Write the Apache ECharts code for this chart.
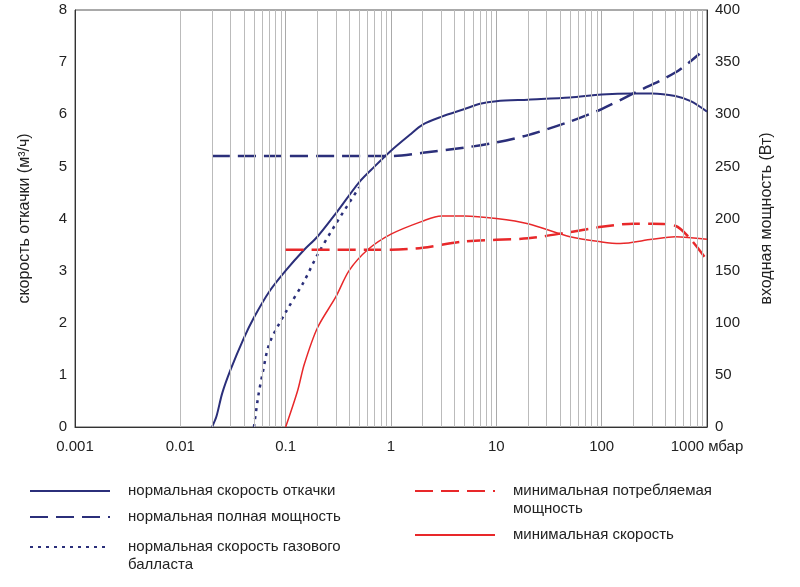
<!DOCTYPE html>
<html><head><meta charset="utf-8">
<script src="https://cdn.jsdelivr.net/npm/echarts@6/dist/echarts.min.js"></script>
<style>html,body{margin:0;background:#fff}#c{width:800px;height:587px}</style>
</head><body><div id="c"></div>
<script>
const speedNormal = [[0.02,0],[0.022,0.2],[0.025,0.65],[0.03,1.1],[0.04,1.7],[0.05,2.1],[0.07,2.6],[0.1,3.0],[0.15,3.4],[0.2,3.65],[0.3,4.1],[0.5,4.7],[0.7,5.0],[1,5.3],[1.5,5.6],[2,5.8],[3,5.95],[5,6.1],[7,6.2],[10,6.25],[20,6.28],[50,6.32],[100,6.38],[200,6.4],[300,6.4],[500,6.35],[700,6.25],[1000,6.05]];
const powerNormal = [[0.02,260],[1,260],[2,263],[5,268],[10,273],[20,280],[50,293],[100,305],[200,320],[500,340],[850,358]];
const speedBallast = [[0.05,0],[0.055,0.6],[0.06,1.0],[0.07,1.6],[0.1,2.2],[0.15,2.8],[0.2,3.3],[0.3,3.9],[0.5,4.6]];
const powerMin = [[0.1,170],[1,170],[2,172],[5,178],[20,181],[50,187],[100,192],[200,195],[300,195],[500,193],[700,180],[1000,160]];
const speedMin = [[0.1,0],[0.13,0.7],[0.15,1.2],[0.2,1.9],[0.3,2.5],[0.4,3.0],[0.6,3.4],[1,3.7],[2,3.95],[3,4.05],[5,4.05],[10,4.0],[20,3.9],[50,3.65],[100,3.55],[150,3.52],[300,3.6],[500,3.65],[1000,3.6]];
const decades = [0.001,0.01,0.1,1,10,100];

const minorX = [];
decades.forEach(d => { for (let k = 2; k <= 9; k++) minorX.push({xAxis: +(d*k).toPrecision(3)}); });

const navy = '#2b2f7a', red = '#e8282a', font = 'Arial, Liberation Sans, sans-serif';
const chart = echarts.init(document.getElementById('c'));
function legLine(x, y, color, dash, txt, ty) {
  return [
    {type:'line', shape:{x1:x, y1:y, x2:x+80, y2:y}, style:{stroke:color, lineWidth:2, lineDash:dash}},
    {type:'text', left:x+98, top:ty, style:{text:txt, fontSize:15, fill:'#222', fontFamily:font, lineHeight:18}}
  ];
}
const lbl = {fontSize:15, color:'#222', fontFamily:font};
chart.setOption({
  animation:false,
  grid:{left:75, right:93, top:10, bottom:160, show:true, borderColor:'#555', borderWidth:1},
  xAxis:{type:'log', min:0.001, max:1000, logBase:10,
    axisLine:{lineStyle:{color:'#333'}}, axisTick:{show:false},
    splitLine:{show:true, lineStyle:{color:'#aaa'}},
    axisLabel:Object.assign({margin:12, formatter: v => v===1000 ? '1000 мбар' : String(+v.toPrecision(3))}, lbl)},
  yAxis:[
    {type:'value', min:0, max:8, interval:1, name:'скорость откачки (м³/ч)', nameLocation:'middle', nameGap:42,
     nameTextStyle:{fontSize:16, color:'#222', fontFamily:font}, splitLine:{show:false},
     axisLine:{show:true, lineStyle:{color:'#333'}}, axisTick:{show:false}, axisLabel:lbl},
    {type:'value', min:0, max:400, interval:50, name:'входная мощность (Вт)', nameLocation:'middle', nameGap:52, nameRotate:90,
     nameTextStyle:{fontSize:16, color:'#222', fontFamily:font}, splitLine:{show:false},
     axisLine:{show:true, lineStyle:{color:'#333'}}, axisTick:{show:false}, axisLabel:lbl}
  ],
  series:[
    {type:'line', data:[], markLine:{silent:true, symbol:'none', label:{show:false},
      lineStyle:{color:'#bbb', type:'solid', width:1}, data:minorX}},
    {type:'line', data:speedNormal, smooth:0.3, showSymbol:false, lineStyle:{color:navy, width:2}},
    {type:'line', yAxisIndex:1, data:powerNormal, smooth:0.3, showSymbol:false, lineStyle:{color:navy, width:2.5, type:[18,8]}},
    {type:'line', data:speedBallast, smooth:0.3, showSymbol:false, lineStyle:{color:navy, width:2.5, type:[3,5]}},
    {type:'line', yAxisIndex:1, data:powerMin, smooth:0.3, showSymbol:false, lineStyle:{color:red, width:2.5, type:[18,8]}},
    {type:'line', data:speedMin, smooth:0.3, showSymbol:false, lineStyle:{color:red, width:1.5}}
  ],
  graphic:[].concat(
    legLine(30, 491, navy, null, 'нормальная скорость откачки', 482),
    legLine(30, 517, navy, [18,8], 'нормальная полная мощность', 508),
    legLine(30, 547, navy, [3,5], 'нормальная скорость газового\nбалласта', 538),
    legLine(415, 491, red, [18,8], 'минимальная потребляемая\nмощность', 482),
    legLine(415, 535, red, null, 'минимальная скорость', 526)
  )
});
</script></body></html>
